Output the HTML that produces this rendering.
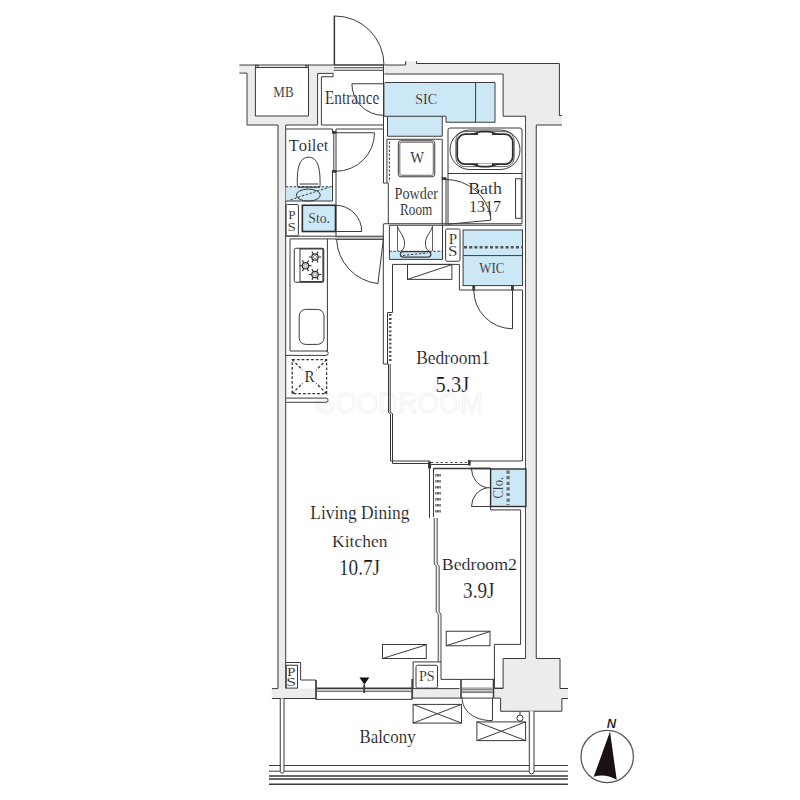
<!DOCTYPE html>
<html><head><meta charset="utf-8">
<style>
html,body{margin:0;padding:0;background:#fff;width:800px;height:800px;overflow:hidden}
svg{display:block}
text{font-family:"Liberation Serif",serif;fill:#111;font-kerning:none;stroke:#fff;stroke-width:0.18px;paint-order:fill stroke;-webkit-font-smoothing:antialiased}
</style></head><body>
<svg width="800" height="800" viewBox="0 0 800 800">
<style>
.g{fill:#ececec;stroke:none}
.l{fill:none;stroke:#3a3a3a;stroke-width:1}
.th{stroke-width:1.6}
.b{fill:#cce8f7}
.dsh{fill:none;stroke:#383838;stroke-width:1;stroke-dasharray:2.4 1.6}
</style>
<text x="314.5" y="413" textLength="168.5" lengthAdjust="spacingAndGlyphs" style="font-family:'Liberation Sans',sans-serif;font-size:30px;fill:#fdfdfd;stroke:#f2f2f2;stroke-width:0.8px;paint-order:normal">GOODROOM</text>
<!-- grey structural walls -->
<g class="g">
  <path d="M239.4,65 H333.75 V73.4 H317.6 V125 H285.7 V688.6 H278 V125 H247 V73.1 H239.4 Z"/>
  <path d="M384.4,65 H405.6 V61.2 H416.5 V63.5 H559.4 V115.6 H561.9 V125 H536.25 V658.5 H526.8 V116.25 H503.1 V74 H384.4 Z"/>
  <rect x="271.9" y="688.6" width="44.35" height="9.9"/>
  <rect x="413.1" y="688.6" width="46.3" height="9.5"/>
  <path d="M494.4,688.5 H503.1 V658.5 H560 V688.5 H568 V698.5 H561.9 V711.25 H500.6 V698.5 H494.4 Z"/>
  <path d="M434.2,518 V564 L436.2,566 V612 L438.2,614 V662 H441 V614 L439.2,612 V566 L437.2,564 V518 Z"/>
</g>
<rect x="255.4" y="67.5" width="53.1" height="48.5" fill="#fff"/>

<g class="l">
  <!-- top-left -->
  <path d="M239.4,65 H333.75"/>
  <path d="M239.4,73.1 H247 V125 H278 V688.6 H271.9"/>
  <path d="M285.7,125 H317.6 V73.4 H333.1 V76.75 H321.4 V125 H383.75"/>
  <path d="M285.7,125 V688.6"/>
  <path d="M255.4,67.5 V116 H308.5 V67.5 Z"/>
  <rect x="255.6" y="65.4" width="2.4" height="2.2"/>
  <rect x="305.9" y="65.4" width="2.4" height="2.2"/>
  <path d="M285.7,129 H332.5 M336.2,129 H383.5"/>
  <!-- threshold & entrance door -->
  <path d="M333.75,67.75 H384 M333.75,70.25 H384"/>
  <path d="M333.75,65 H384" class="th"/>
  <rect x="333.6" y="15.6" width="1.5" height="49.4" fill="#383838" stroke="none"/>
  <path d="M335,16 A49,49 0 0 1 384,65"/>
  <!-- top-right -->
  <path d="M384.4,65 H405.6 V61.2 M416.5,61.2 V63.5 H559.4 V115.6 H561.9"/>
  <path d="M384.4,74 H503.1 V116.25 H526"/>
  <path d="M525.6,116.25 V658.5 H503.1 V688.5 H494.4"/>
  <path d="M536.25,125 H561.9 M536.25,125 V658.5 H560 V688.5 H568"/>
  <path d="M413.1,698.1 H500.6 V711.25 H561.9 V698.5 H568"/>
  <path d="M271.9,698.5 H316.25"/>
  <path d="M413.1,688.6 H459.4"/>
  <!-- entrance right wall + shoe cabinet door -->
  <path d="M383.5,65 V183 M385,82.5 V116.25" />
  <path d="M351.9,83.75 H383.5 M351.9,83.75 A31.6,31.6 0 0 0 383.5,115.35"/>
</g>

<!-- SIC -->
<path class="b" d="M385,82.5 H495 V122.25 H446 V116.25 H442.25 V136.25 H387.5 V116.25 H385 Z"/>
<g class="l">
  <path d="M385,82.5 H495 V122.25 H446 V116.25 H383.5 M442.25,116.25 V136.25 H387.5 V116.25"/>
  <path d="M475.6,82.5 V122.25"/>
</g>

<!-- Toilet -->
<rect class="b" x="285.7" y="186.75" width="46" height="14.25"/>
<g class="l">
  <path d="M332.5,129 V132.75 M332.5,171.25 V201"/>
  <path d="M336,129 V236.2 M333.8,132.75 V171.25"/>
  <rect x="332.5" y="131.6" width="3.5" height="1.6" fill="#383838"/>
  <rect x="332.5" y="170.6" width="3.5" height="1.6" fill="#383838"/>
  <path d="M336,132.75 H374.5 A38.5,38.5 0 0 1 336,171.25"/>
  <path d="M297.4,186.5 C296.6,168 299.5,157.2 308.6,157.2 C317.7,157.2 320.6,168 320,186.5"/>
  <path d="M299.6,184 H318.2 M297.6,187.2 H320" stroke-width="1.2"/>
  <ellipse cx="308.3" cy="195.1" rx="12" ry="6"/>
  <path d="M285.7,201 H332.5"/>
  <rect x="286" y="204.5" width="12.4" height="31.5" rx="1.2"/>
</g>
<path class="dsh" d="M285.7,186.75 H331.7 M290.5,199.8 L329.5,187.1"/>
<rect class="b" x="302.35" y="205.25" width="33.15" height="26.25"/>
<rect x="302.35" y="205.25" width="33.15" height="26.25" fill="none" stroke="#2c2c2c" stroke-width="1.6"/>
<g class="l">
  <path d="M335.5,231.5 H361.75 M335.5,205.25 A26.25,26.25 0 0 1 361.75,231.5"/>
</g>

<!-- Kitchen -->
<rect x="335.2" y="236.2" width="48.8" height="3.2" fill="#bdbdbd"/>
<g class="l">
  <path d="M285.7,236.2 H335.2"/>
  <path d="M335.2,236.2 H384 M335.2,239.4 H384"/>
  <path d="M290,238.9 H335.2 M290,238.9 V351 H327.4 V238.9"/>
  <path d="M285.7,355.4 H326 A2.2,2.2 0 0 0 326,351"/>
  <rect x="294.25" y="248.25" width="29.5" height="34" rx="1.6"/>
  <path d="M300,248.25 V282.25"/>
  <path d="M300,248.9 H323.1 V281.6 H300" stroke-width="1.4"/>
  <rect x="299.2" y="309.4" width="24.8" height="35" rx="6.5"/>
  <path d="M336.6,239.6 A46.5,46.5 0 0 0 377.9,283.6 L383.4,239"/>
  <path d="M285.7,398.1 H326 A2.1,2.1 0 0 1 326,402.3 H285.7"/>
</g>
<g fill="none" stroke="#333"><circle cx="315" cy="257" r="3.2" stroke-width="1.3"/><circle cx="315" cy="257" r="1.6" stroke-width="0.8" stroke="#777"/><path d="M318.20,257.00 L321.20,257.00 M316.60,259.77 L318.10,262.37 M313.40,259.77 L311.90,262.37 M311.80,257.00 L308.80,257.00 M313.40,254.23 L311.90,251.63 M316.60,254.23 L318.10,251.63 " stroke-width="1.1"/><circle cx="305.5" cy="265.75" r="3.2" stroke-width="1.3"/><circle cx="305.5" cy="265.75" r="1.6" stroke-width="0.8" stroke="#777"/><path d="M308.70,265.75 L311.70,265.75 M307.10,268.52 L308.60,271.12 M303.90,268.52 L302.40,271.12 M302.30,265.75 L299.30,265.75 M303.90,262.98 L302.40,260.38 M307.10,262.98 L308.60,260.38 " stroke-width="1.1"/><circle cx="315" cy="274.5" r="3.2" stroke-width="1.3"/><circle cx="315" cy="274.5" r="1.6" stroke-width="0.8" stroke="#777"/><path d="M318.20,274.50 L321.20,274.50 M316.60,277.27 L318.10,279.87 M313.40,277.27 L311.90,279.87 M311.80,274.50 L308.80,274.50 M313.40,271.73 L311.90,269.13 M316.60,271.73 L318.10,269.13 " stroke-width="1.1"/></g>
<g class="dsh" style="stroke-width:1.3;stroke-dasharray:2.8 1.9">
  <rect x="292.2" y="359.6" width="34.4" height="34.1"/>
  <path d="M292.2,359.6 L302.5,370 M326.6,359.6 L316.3,370 M292.2,393.7 L302.5,383.3 M326.6,393.7 L316.3,383.3"/>
</g>

<!-- Powder room -->
<g class="l">
  <path d="M383.5,183 H388.3 V224"/>
  <path d="M386.9,139.25 V182.5"/>
  <path d="M386.9,139.25 H442.25"/>
  <rect x="398.3" y="140.75" width="36.45" height="36" rx="2.5"/>
  <rect x="399.8" y="142.25" width="33.45" height="33" rx="1.8" stroke-width="0.8"/>
  <path d="M442.25,139.25 V225 M446,178.5 V225"/>
  <rect x="442.25" y="177.8" width="3.75" height="1.6" fill="#383838"/>
  <path d="M448,223.5 V130 Q448,128 450,128 H520 Q522,128 522,130 V223.75"/>
  <path d="M448,173.5 H522"/>
  <path d="M383.5,223.75 H522 M389.4,225.25 H522"/>
  <rect x="450" y="130" width="70" height="39.5" rx="19.75" ry="19.75"/>
  <rect x="515.5" y="178.75" width="5.75" height="39.5"/>
  <path d="M446,179.5 A45.25,45.25 0 0 1 490.6,217 M490.6,212 V220.2 L447.6,224.25"/>
</g>
<path class="dsh" d="M389.4,141.5 V182" stroke-width="1"/>
<rect x="455.8" y="131.6" width="58.4" height="35" rx="9" fill="none" stroke="#383838" stroke-width="0.8"/>
<rect x="457.2" y="134.2" width="55.6" height="30" rx="8" fill="none" stroke="#2e2e2e" stroke-width="1.8"/>
<rect x="478" y="131" width="14" height="4" fill="#fff"/>
<rect x="478" y="163.5" width="14" height="4" fill="#fff"/>
<path d="M471,134.2 C476,134.2 477,131.6 482,131.6 H488 C493,131.6 494,134.2 499,134.2 M471,164.2 C476,164.2 477,166.6 482,166.6 H488 C493,166.6 494,164.2 499,164.2" fill="none" stroke="#2e2e2e" stroke-width="1.6"/>

<!-- washbasin -->
<rect class="b" x="389.4" y="251.25" width="53.1" height="8.15"/>
<g class="l">
  <path d="M389.4,225.25 V259.4 H442.5 V225.25"/>
  <path d="M397.5,226 V251 M432.5,226 V251" stroke-width="0.8"/>
  <path d="M397.75,226.75 C399,232 404.5,236 404.5,243 C404.5,247 404,249.5 400.5,251 M432.25,226.75 C431,232 425.5,236 425.5,243 C425.5,247 426,249.5 429.5,251"/>
  <rect x="400.4" y="251.6" width="30.35" height="5.5" rx="2.5" stroke-width="1.3"/>
</g>
<path class="dsh" d="M389.4,251.25 H442.5 M403,255.4 L427.5,253" stroke-width="0.9"/>

<!-- PS + WIC -->
<rect class="b" x="463.1" y="230" width="59.4" height="55.6"/>
<g class="l">
  <rect x="445.6" y="229" width="14.4" height="32.25" rx="1.5"/>
  <rect x="463.1" y="230" width="59.4" height="55.6"/>
  <path d="M463.1,255.6 H522.5"/>
  <path d="M383.3,224 V364 H388.5 M392.5,264.4 V312.5 H387.5 V364"/>
  <path d="M392.5,264.4 H459.4 V290 H522.5 V461"/>
  <rect x="407.5" y="264.4" width="44.4" height="15"/>
  <path d="M407.5,279.4 L451.9,264.6"/>
  <path d="M473.75,290 A38.75,38.75 0 0 0 512.5,328.75 V290"/>
  <rect x="472.9" y="285.6" width="1.7" height="4.4" fill="#383838"/>
  <rect x="511.6" y="285.6" width="1.7" height="4.4" fill="#383838"/>
</g>
<path d="M464,247.25 H522" fill="none" stroke="#555" stroke-width="2.6" stroke-dasharray="3 2.2"/>
<path d="M390.2,314 V362" fill="none" stroke="#4a4a4a" stroke-width="2.6" stroke-dasharray="1.8 2.3"/>

<!-- Bedroom1 / Bedroom2 walls -->
<g class="l" stroke-width="0.9">
  <path d="M388.5,364 V412.5 L390.5,414 V461"/>
  <path d="M390.2,364 V412 L392.5,413.5 V463.5"/>
  <path d="M390.5,461 H430 M392.5,463.5 H428.5"/>
</g>
<g class="l">
  <path d="M430.5,464.5 H469"/>
  <path d="M470,461 H521 Q522.5,461 522.5,459.5"/>
  <path d="M434,468.5 H490.6" class="th"/>
  <path d="M429.5,462 V518 M433.5,468 V517"/>
  <path d="M434.2,518 V564 L436.2,566 V612 L438.2,614 V662 M437.2,518 V564 L439.2,566 V612 L441,614 V662" stroke-width="0.9"/>
  <rect x="428.5" y="462" width="2" height="6" fill="#383838"/>
  <rect x="468.5" y="460.5" width="1.6" height="4.5" fill="#383838"/>
</g>
<path d="M431,462.5 H468" fill="none" stroke="#383838" stroke-width="1" stroke-dasharray="2.2 2.6"/>
<path d="M438,474 V516" fill="none" stroke="#666" stroke-width="6" stroke-dasharray="2.6 3.4"/>
<path d="M436.2,471 V516 M439.8,471 V516" fill="none" stroke="#fff" stroke-width="0.5"/>

<!-- Clo -->
<rect class="b" x="490.6" y="469" width="35.3" height="37.5"/>
<rect x="490.6" y="469" width="35.3" height="37.5" fill="none" stroke="#2c2c2c" stroke-width="1.4"/>
<path d="M508.1,470.5 V505" fill="none" stroke="#707070" stroke-width="3.3" stroke-dasharray="3.2 2.4"/>
<g class="l">
  <path d="M470,468.5 H490.6" class="th"/>
  <path d="M471.5,506.5 H490.6"/>
  <path d="M471.5,469 A19.1,19.1 0 0 0 487.25,487.75 H490.6 M487.25,487.75 A19.1,19.1 0 0 0 471.5,506.5"/>
  <path d="M490.6,506.5 V509.9 H520.6 V644.4 H494.4 V688.1 H503.1"/>
  <path d="M441,661.9 V679.4 H494.4"/>
</g>

<!-- AC boxes -->
<g class="l">
  <rect x="382.5" y="644.5" width="43.75" height="14"/>
  <path d="M382.5,658.5 L426.25,644.8"/>
  <rect x="446.25" y="631.25" width="43.75" height="14.5"/>
  <path d="M446.25,645.75 L490,631.5"/>
</g>

<!-- bottom PS boxes -->
<g class="l">
  <path d="M285.7,662.5 H300.6 V680 H315.6"/>
  <rect x="286.25" y="665.25" width="11.25" height="22.85"/>
  <path d="M413.1,688.6 V661.9 H441"/>
  <rect x="416" y="665.25" width="21.5" height="22.85" rx="1.5"/>
</g>

<!-- window -->
<g class="l">
  <path d="M316.25,688.4 H412" stroke-width="1.9"/>
  <path d="M316.25,691.2 H412"/>
  <path d="M316.25,699.4 H412"/>
  <path d="M316,680 V699.4 M412.2,679 V699.4" stroke-width="1.7"/>
  <path d="M364.2,684.5 V693" stroke-width="1.8"/>
</g>
<path d="M359.4,677.5 H369.4 L364.4,684.6 Z" fill="#111"/>

<!-- balcony door -->
<g class="l">
  <path d="M462,688.1 H492.5 M462,689.6 H492.5 M462,691.25 H492.5 M462,692.6 H492.5" stroke-width="0.7"/>
  <path d="M461,679.4 V698.1 M493.5,679.4 V698.1" stroke-width="1.6"/>
  <path d="M462,697 C462,711 474,720.6 492,720.6 M492.5,698.1 V720.6"/>
</g>

<!-- balcony -->
<g class="l">
  <path d="M280.25,698.5 V771.6 A1.9,1.9 0 0 0 284,771.6 V698.5" fill="#fff"/>
  <path d="M529.3,711.25 V771.6 A2.35,2.35 0 0 0 534,771.6 V711.25" fill="#fff"/>
  <path d="M520,711.25 V715"/>
  <circle cx="520" cy="718.1" r="3.1"/>
  <rect x="413.1" y="704.4" width="48.4" height="18.7"/>
  <path d="M413.1,704.4 L461.5,723.1 M461.5,704.4 L413.1,723.1"/>
  <rect x="476.9" y="721.9" width="48.7" height="18.7"/>
  <path d="M476.9,721.9 L525.6,740.6 M525.6,721.9 L476.9,740.6"/>
  <path d="M269,765.5 H280.25 M284,765.5 H529.3 M534,765.5 H567.9 M269,771.2 H280.25 M284,771.2 H529.3 M534,771.2 H567.9" stroke-width="1"/>
  <path d="M269,776 H567.9 M269,778.9 H567.9 M269,784.3 H567.9" stroke-width="1.45"/>
</g>

<!-- compass -->
<circle cx="607.2" cy="756.5" r="26.2" fill="none" stroke="#555" stroke-width="1.25"/>
<path d="M610,731.5 L616.7,779.8 Q605,773 593.7,776.8 Z" fill="#1a1212"/>
<text x="606.8" y="727.7" style="font-family:'Liberation Sans',sans-serif;font-weight:bold;font-style:italic;font-size:13px;fill:#111">N</text>

<g>
<text transform="translate(273.37,96.75) scale(0.922,1)" font-size="14.13" >MB</text>
<text transform="translate(325.06,104.25) scale(0.850,1)" font-size="17.94" >Entrance</text>
<text transform="translate(415.32,104.25) scale(0.913,1)" font-size="15.27" >SIC</text>
<text transform="translate(288.70,150.60) scale(0.941,1)" font-size="17.72" >Toilet</text>
<text transform="translate(410.19,163.20) scale(0.881,1)" font-size="16.65" >W</text>
<text transform="translate(394.59,199.10) scale(0.808,1)" font-size="17.56" >Powder</text>
<text transform="translate(400.02,215.30) scale(0.816,1)" font-size="16.19" >Room</text>
<text transform="translate(468.19,193.75) scale(1.064,1)" font-size="16.80" >Bath</text>
<text transform="translate(468.88,211.60) scale(0.935,1)" font-size="17.27" >1317</text>
<text transform="translate(308.33,223.25) scale(0.953,1)" font-size="14.36" >Sto.</text>
<text transform="translate(288.22,218.75) scale(1.000,1)" font-size="13.13" >P</text>
<text transform="translate(287.60,230.75) scale(1.115,1)" font-size="13.44" >S</text>
<text transform="translate(448.77,243.75) scale(1.090,1)" font-size="13.74" >P</text>
<text transform="translate(448.06,256.00) scale(1.216,1)" font-size="14.05" >S</text>
<text transform="translate(479.29,273.30) scale(0.942,1)" font-size="13.74" >WIC</text>
<text transform="translate(304.46,382.30) scale(0.883,1)" font-size="17.26" >R</text>
<text transform="translate(416.25,363.60) scale(0.967,1)" font-size="18.02" >Bedroom1</text>
<text transform="translate(435.61,391.50) scale(0.900,1)" font-size="22.72" >5.3J</text>
<text transform="translate(310.30,518.60) scale(0.975,1)" font-size="17.87" >Living Dining</text>
<text transform="translate(332.00,546.75) scale(1.020,1)" font-size="17.18" >Kitchen</text>
<text transform="translate(338.91,574.50) scale(0.848,1)" font-size="22.72" >10.7J</text>
<text transform="translate(441.79,569.70) scale(1.023,1)" font-size="17.41" >Bedroom2</text>
<text transform="translate(463.09,598.00) scale(0.864,1)" font-size="22.12" >3.9J</text>
<text transform="translate(287.06,675.60) scale(1.244,1)" font-size="12.37" >P</text>
<text transform="translate(286.33,686.25) scale(1.385,1)" font-size="12.68" >S</text>
<text transform="translate(419.00,681.25) scale(0.979,1)" font-size="14.36" >PS</text>
<text transform="translate(359.52,742.50) scale(0.918,1)" font-size="18.33" >Balcony</text>
<text transform="translate(503.4,498.42) rotate(-90) scale(0.891,1)" font-size="14.36">Clo.</text>
</g>
</svg>
</body></html>
